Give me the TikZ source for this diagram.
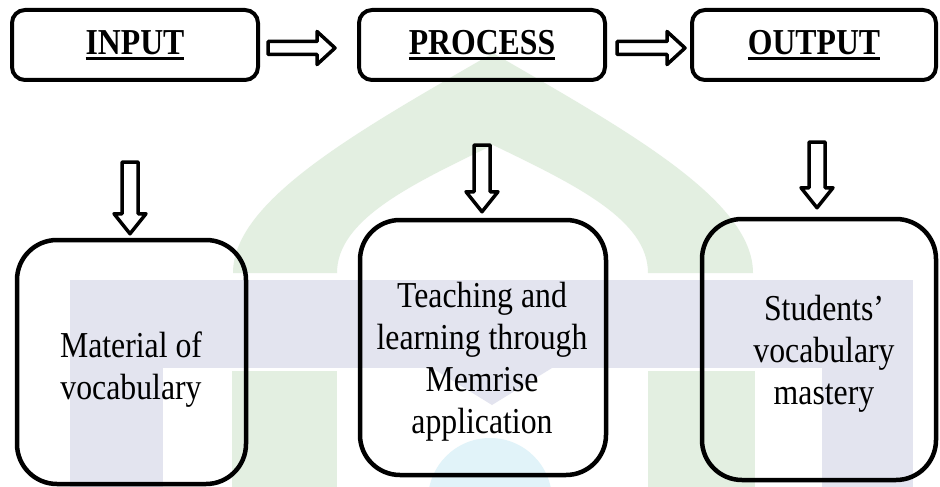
\documentclass[tikz,border=0pt]{standalone}
\usepackage{fontspec}
\setmainfont{Liberation Serif}[FakeStretch=0.87]
\usetikzlibrary{calc}

\definecolor{wmgreen}{RGB}{227,239,225}
\definecolor{wmblue}{RGB}{227,228,239}
\definecolor{wmcyan}{RGB}{225,243,249}

\tikzset{
  topbox/.style={draw,line width=4pt,rounded corners=13pt,minimum width=246pt,minimum height=70pt,
    inner sep=0pt,font=\fontsize{36.5}{42}\selectfont\bfseries},
  bigbox/.style={draw,line width=4.5pt,rounded corners=40pt,inner sep=0pt},
  boxtext/.style={align=center,inner sep=0pt,font=\fontsize{36.5}{42}\selectfont},
  blockarrow/.style={draw,line width=3.5pt,line join=round}
}

% underlined heading
\newcommand\headul[1]{\setbox0\hbox{#1}\rlap{\rule[-5.5pt]{\wd0}{3pt}}\box0}
% hollow block arrows: #1 tail, #2 tip
\newcommand\rightblock[2]{\draw[blockarrow] ($(#1)+(0,-6.5)$) -- ($(#2)+(-18,-6.5)$) -- ($(#2)+(-18,-16.5)$) -- (#2)
  -- ($(#2)+(-18,16.5)$) -- ($(#2)+(-18,6.5)$) -- ($(#1)+(0,6.5)$) -- cycle;}
\newcommand\downblock[2]{\draw[blockarrow] ($(#1)+(-8,0)$) -- ($(#2)+(-8,-20)$) -- ($(#2)+(-16,-20)$) -- (#2)
  -- ($(#2)+(16,-20)$) -- ($(#2)+(8,-20)$) -- ($(#1)+(8,0)$) -- cycle;}

\begin{document}
\begin{tikzpicture}[x=1pt,y=-1pt]
\useasboundingbox (0,0) rectangle (940,487);
\fill[white] (0,0) rectangle (940,487);

%watermark
\fill[wmgreen] (233,273) .. controls (233,200) and (360,130) .. (493,53) .. controls (626,130) and (753,200) .. (753,273)
  -- (648,273) .. controls (648,220) and (576,185) .. (493,145) .. controls (410,185) and (337,220) .. (337,273) -- cycle;
\fill[wmblue] (70,280) rectangle (913,368);
\fill[wmblue] (70,368) rectangle (163,487);
\fill[wmblue] (822,368) rectangle (913,487);
\fill[wmgreen] (232,371) rectangle (337,487);
\fill[wmgreen] (648,371) rectangle (755,487);
\fill[wmblue] (432,368) -- (552,368) -- (492,405) -- cycle;
\fill[wmcyan] (490,500) circle[radius=62pt];

%top boxes
\node[topbox] (input) at (135,45) {\headul{INPUT}};
\node[topbox] (process) at (482,45) {\headul{PROCESS}};
\node[topbox,minimum width=244pt] (output) at (814,45) {\headul{OUTPUT}};

%bottom boxes
\node[bigbox,minimum width=229pt,minimum height=244pt] (material) at (131.5,362) {};
\node[bigbox,minimum width=246pt,minimum height=255pt] (teaching) at (483,347.5) {};
\node[bigbox,minimum width=234pt,minimum height=261pt] (mastery) at (819,349.5) {};

%box texts
\node[boxtext] (materialtxt) at (131,369.5) {Material of\\vocabulary};
\node[boxtext] (teachingtxt) at (482,361.5) {Teaching and\\learning through\\Memrise\\application};
\node[boxtext] (masterytxt) at (824,353.5) {Students’\\vocabulary\\mastery};

%arrow ends
\coordinate (r1s) at ($(input.east)+(8,3)$);
\coordinate (r1t) at ($(process.west)+(-22,3)$);
\coordinate (r2s) at ($(process.east)+(10,3)$);
\coordinate (r2t) at ($(output.west)+(-5,3)$);
\coordinate (d1s) at ($(input.south)+(-5,80)$);
\coordinate (d1t) at ($(material.north)+(-1.5,-4)$);
\coordinate (d2s) at ($(process.south)+(0,63)$);
\coordinate (d2t) at ($(teaching.north)+(-1,-6)$);
\coordinate (d3s) at ($(output.south)+(3,60)$);
\coordinate (d3t) at ($(mastery.north)+(-2,-9)$);

%some arrows
\rightblock{r1s}{r1t}
\rightblock{r2s}{r2t}
\downblock{d1s}{d1t}
\downblock{d2s}{d2t}
\downblock{d3s}{d3t}
\end{tikzpicture}
\end{document}
